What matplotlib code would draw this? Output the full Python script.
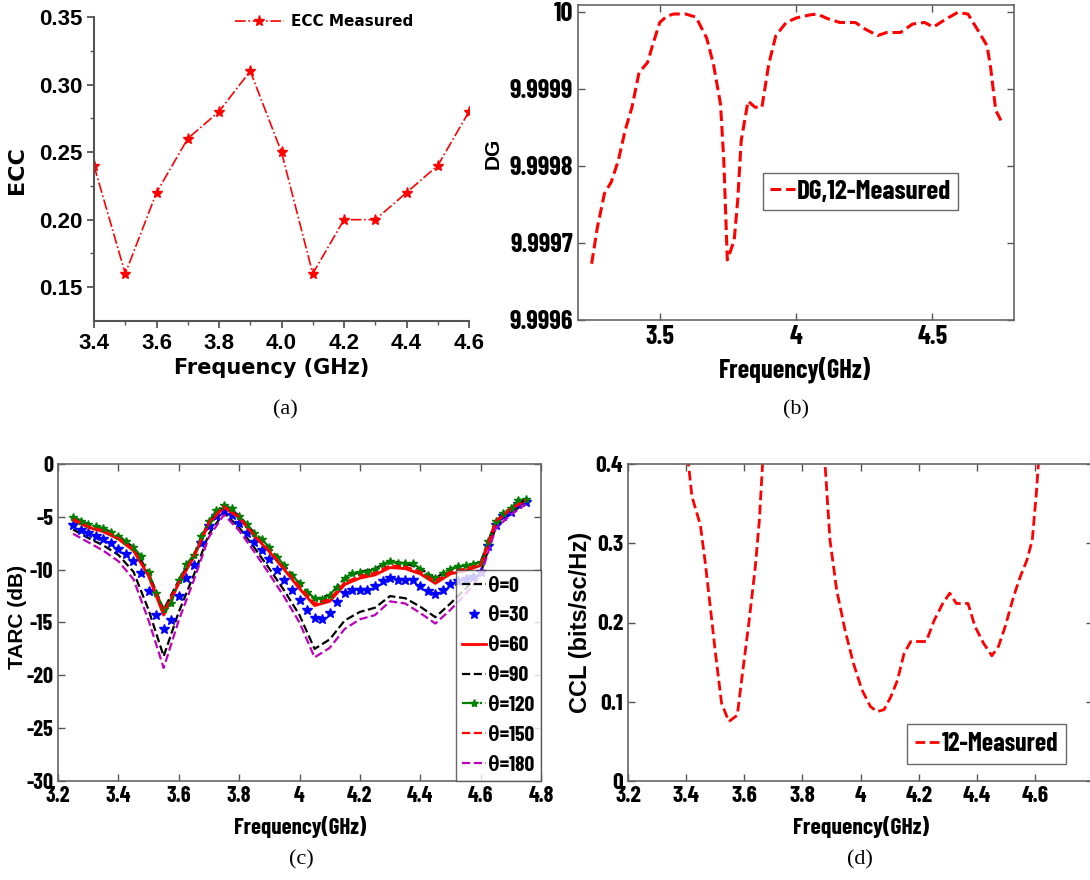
import numpy as np
import matplotlib
matplotlib.use("Agg")
import matplotlib.pyplot as plt

plt.rcParams['axes.unicode_minus'] = False
NARROW = ['Barlow Condensed', 'Liberation Sans Narrow', 'Liberation Sans', 'DejaVu Sans']
WIDE = ['Liberation Sans', 'DejaVu Sans']
HEAVY = ['DejaVu Sans']

# (a) ECC
ecc_freq = [3.4, 3.5, 3.6, 3.7, 3.8, 3.9, 4.0, 4.1, 4.2, 4.3, 4.4, 4.5, 4.6]
ecc_vals = [0.24, 0.16, 0.22, 0.26, 0.28, 0.31, 0.25, 0.16, 0.20, 0.20, 0.22, 0.24, 0.28]

# (b) DG
dg_freq = [3.25, 3.271, 3.297, 3.322, 3.348, 3.373, 3.398, 3.424, 3.455, 3.475,
           3.5, 3.525, 3.551, 3.595, 3.633, 3.672, 3.697, 3.723, 3.735, 3.748,
           3.773, 3.786, 3.799, 3.824, 3.85, 3.875, 3.9, 3.926, 3.964, 4.002,
           4.053, 4.078, 4.116, 4.161, 4.218, 4.256, 4.3, 4.332, 4.383, 4.428,
           4.472, 4.504, 4.548, 4.593, 4.631, 4.669, 4.701, 4.714, 4.733, 4.752]
dg_vals = [9.999673, 9.99972, 9.999764, 9.999779, 9.999807, 9.999846, 9.999876, 9.999921, 9.999934, 9.999958,
           9.999986, 9.999994, 9.999997, 9.999997, 9.999993, 9.999966, 9.999932, 9.99988, 9.999807, 9.999678,
           9.999703, 9.999755, 9.999833, 9.999884, 9.999876, 9.999876, 9.999932, 9.999969, 9.999986, 9.999992,
           9.999996, 9.999997, 9.999991, 9.999986, 9.999986, 9.999977, 9.999969, 9.999973, 9.999973, 9.999984,
           9.999986, 9.99998, 9.99999, 9.999999, 9.999997, 9.999975, 9.999956, 9.999928, 9.999872, 9.999859]

# (c) TARC, fine grid (marker series)
tarc_freq_fine = [3.25, 3.275, 3.3, 3.325, 3.35, 3.375, 3.4, 3.425, 3.45, 3.475,
                  3.5, 3.525, 3.55, 3.575, 3.6, 3.625, 3.65, 3.675, 3.7, 3.725,
                  3.75, 3.775, 3.8, 3.825, 3.85, 3.875, 3.9, 3.925, 3.95, 3.975,
                  4.0, 4.025, 4.05, 4.075, 4.1, 4.125, 4.15, 4.175, 4.2, 4.225,
                  4.25, 4.275, 4.3, 4.325, 4.35, 4.375, 4.4, 4.425, 4.45, 4.475,
                  4.5, 4.525, 4.55, 4.575, 4.6, 4.625, 4.65, 4.675, 4.7, 4.725, 4.75]
tarc_30 = [-5.8, -6.2, -6.5, -6.8, -7.1, -7.5, -8.0, -8.5, -9.2, -10.3,
           -12.0, -14.3, -15.6, -14.8, -12.5, -10.8, -9.6, -7.5, -5.9, -4.9,
           -4.4, -4.8, -5.6, -6.5, -7.4, -8.1, -9.0, -10.0, -11.0, -11.9,
           -12.9, -13.8, -14.6, -14.7, -14.1, -13.1, -12.2, -11.9, -11.9, -11.9,
           -11.5, -11.1, -10.8, -11.0, -11.0, -11.0, -11.5, -12.0, -12.3, -11.9,
           -11.4, -11.1, -10.9, -10.7, -10.2, -7.8, -5.8, -4.9, -4.5, -3.8, -3.6]
tarc_120 = [-5.0, -5.4, -5.7, -5.9, -6.1, -6.4, -6.8, -7.3, -7.9, -8.7,
            -10.2, -12.2, -13.7, -13.2, -11.0, -9.5, -8.6, -6.8, -5.4, -4.4,
            -3.9, -4.2, -4.9, -5.7, -6.5, -7.1, -7.9, -8.8, -9.6, -10.5,
            -11.3, -12.1, -12.7, -12.8, -12.4, -11.6, -10.8, -10.3, -10.2, -10.2,
            -9.9, -9.5, -9.2, -9.4, -9.4, -9.4, -9.9, -10.5, -10.8, -10.3,
            -9.9, -9.7, -9.6, -9.5, -9.3, -7.3, -5.4, -4.6, -4.2, -3.4, -3.3]

# (c) TARC, coarse grid (line series)
tarc_freq = [3.25, 3.3, 3.35, 3.4, 3.45, 3.5, 3.55, 3.6, 3.65, 3.7,
             3.75, 3.8, 3.85, 3.9, 3.95, 4.0, 4.05, 4.1, 4.15, 4.2,
             4.25, 4.3, 4.35, 4.4, 4.45, 4.5, 4.55, 4.6, 4.65, 4.7, 4.75]
tarc_0 = [-6.2, -7.0, -7.7, -8.6, -10.2, -13.8, -18.2, -14.0, -10.5, -6.6,
          -4.6, -6.0, -7.9, -9.9, -12.0, -14.3, -17.5, -16.6, -14.8, -14.0,
          -13.6, -12.5, -12.7, -13.5, -14.5, -13.2, -11.8, -10.3, -6.0, -4.6, -3.7]
tarc_60 = [-5.3, -6.0, -6.4, -7.1, -8.2, -10.6, -14.3, -11.3, -8.8, -5.6,
           -4.1, -5.1, -6.8, -8.3, -10.0, -11.8, -13.4, -13.0, -11.4, -10.8,
           -10.5, -9.8, -9.9, -10.4, -11.3, -10.4, -10.1, -9.6, -5.5, -4.3, -3.4]
tarc_90 = [-5.0, -5.7, -6.1, -6.8, -7.9, -10.3, -13.8, -11.0, -8.6, -5.4,
           -3.9, -4.9, -6.5, -7.9, -9.6, -11.3, -12.8, -12.4, -10.8, -10.2,
           -9.9, -9.2, -9.4, -9.9, -10.8, -9.9, -9.6, -9.3, -5.4, -4.2, -3.3]
tarc_150 = [-5.2, -5.9, -6.3, -7.0, -8.1, -10.5, -14.0, -11.2, -8.7, -5.5,
            -4.0, -5.0, -6.7, -8.2, -9.9, -11.6, -13.2, -12.8, -11.2, -10.6,
            -10.3, -9.6, -9.7, -10.2, -11.1, -10.2, -9.9, -9.5, -5.4, -4.2, -3.4]
tarc_180 = [-6.6, -7.4, -8.2, -9.2, -10.9, -14.8, -19.3, -14.8, -11.0, -6.9,
            -4.8, -6.3, -8.3, -10.4, -12.6, -15.0, -18.3, -17.4, -15.6, -14.7,
            -14.3, -13.0, -13.2, -14.1, -15.1, -13.8, -12.3, -10.6, -6.1, -4.8, -3.8]

# (d) CCL (values above 0.4 run off the top of the axes)
ccl_freq = [3.40, 3.408, 3.42, 3.449, 3.466, 3.483, 3.501, 3.522, 3.547, 3.576,
            3.594, 3.617, 3.638, 3.652, 3.663, 3.675, 3.87, 3.878, 3.895, 3.918,
            3.947, 3.976, 4.005, 4.034, 4.057, 4.081, 4.104, 4.127, 4.15, 4.173,
            4.197, 4.226, 4.254, 4.283, 4.307, 4.33, 4.37, 4.394, 4.423, 4.452,
            4.475, 4.498, 4.527, 4.55, 4.573, 4.591, 4.605, 4.612, 4.625]
ccl_vals = [0.427, 0.40, 0.359, 0.323, 0.275, 0.22, 0.161, 0.098, 0.075, 0.083,
            0.136, 0.203, 0.27, 0.329, 0.40, 0.477, 0.445, 0.40, 0.304, 0.241,
            0.19, 0.148, 0.115, 0.094, 0.0875, 0.09, 0.106, 0.127, 0.161, 0.176,
            0.176, 0.176, 0.203, 0.224, 0.237, 0.224, 0.224, 0.195, 0.174, 0.158,
            0.17, 0.195, 0.233, 0.258, 0.279, 0.304, 0.363, 0.40, 0.48]

W, H = 1090, 880
fig = plt.figure(figsize=(W / 100, H / 100), dpi=100)


def box(left, top, right, bottom):
    return fig.add_axes([left / W, 1 - bottom / H, (right - left) / W, (bottom - top) / H])


def matlab_style(ax, size):
    ax.tick_params(direction='in', top=True, right=True, length=5, width=1, colors='#555555',
                   labelcolor='black', labelsize=size)
    for s in ax.spines.values():
        s.set_color('#666666')
        s.set_linewidth(1.2)
    for lab in ax.get_xticklabels() + ax.get_yticklabels():
        lab.set_family(NARROW)
        lab.set_fontweight('bold')


def boxed_legend(leg):
    leg.get_frame().set_edgecolor('#444444')
    leg.get_frame().set_linewidth(1.0)


# ---------- (a)
ax = box(94, 17, 469, 321)
ax.plot(ecc_freq, ecc_vals, color='red', ls='-.', lw=1.2, marker='*', ms=8, label='ECC Measured')
ax.set_xlim(3.4, 4.6)
ax.set_ylim(0.125, 0.35)
ax.set_xticks([3.4, 3.6, 3.8, 4.0, 4.2, 4.4, 4.6])
ax.set_xticks([3.5, 3.7, 3.9, 4.1, 4.3, 4.5], minor=True)
ax.set_xticklabels(['3.4', '3.6', '3.8', '4.0', '4.2', '4.4', '4.6'])
ax.set_yticks([0.15, 0.20, 0.25, 0.30, 0.35])
ax.set_yticks([0.175, 0.225, 0.275, 0.325], minor=True)
ax.set_yticklabels(['0.15', '0.20', '0.25', '0.30', '0.35'])
ax.spines['top'].set_visible(False)
ax.spines['right'].set_visible(False)
for s in ['left', 'bottom']:
    ax.spines[s].set_color('#555555')
    ax.spines[s].set_linewidth(1.5)
ax.tick_params(which='major', direction='out', length=5, width=1.3, colors='#555555', labelcolor='black')
ax.tick_params(which='minor', direction='out', length=3, width=1, colors='#555555')
for lab in ax.get_xticklabels() + ax.get_yticklabels():
    lab.set_family(WIDE)
    lab.set_fontweight('bold')
    lab.set_fontsize(16)
ax.set_xlabel('Frequency (GHz)', family=HEAVY, fontweight='bold', fontsize=15)
ax.set_ylabel('ECC', family=HEAVY, fontweight='bold', fontsize=16)
ax.xaxis.set_label_coords(0.475, -0.122)
ax.yaxis.set_label_coords(-0.179, 0.497)
ax.legend(loc='upper left', bbox_to_anchor=(0.376, 1.01), frameon=False, handlelength=3.2,
          handletextpad=0.45, borderpad=0, borderaxespad=0,
          prop={'family': HEAVY, 'weight': 'bold', 'size': 11})

# ---------- (b)
ax = box(578, 5, 1014, 320)
ax.plot(dg_freq, dg_vals, color='red', ls=(0, (3.5, 1.6)), lw=2.2, label='DG,12-Measured')
ax.set_xlim(3.2, 4.8)
ax.set_ylim(9.9996, 10.0000087)
ax.set_xticks([3.5, 4.0, 4.5])
ax.set_xticklabels(['3.5', '4', '4.5'])
ax.set_yticks([9.9996, 9.9997, 9.9998, 9.9999, 10.0])
ax.set_yticklabels(['9.9996', '9.9997', '9.9998', '9.9999', '10'])
matlab_style(ax, 19)
ax.set_xlabel('Frequency(GHz)', family=NARROW, fontweight='bold', fontsize=19)
ax.set_ylabel('DG', family=WIDE, fontweight='bold', fontsize=15)
ax.xaxis.set_label_coords(0.498, -0.117)
ax.yaxis.set_label_coords(-0.173, 0.53)
leg = ax.legend(loc='upper left', bbox_to_anchor=(0.424, 0.467), handlelength=0.95, handletextpad=0.05,
                borderaxespad=0, fancybox=False, borderpad=0.25,
                prop={'family': NARROW, 'weight': 'bold', 'size': 19.5})
boxed_legend(leg)

# ---------- (c)
ax = box(58, 464, 541, 781)
ax.plot(tarc_freq, tarc_0, color='black', ls='--', lw=1.6, label='θ=0')
ax.plot(tarc_freq_fine, tarc_30, color='blue', ls='none', marker='*', ms=7, label='θ=30')
ax.plot(tarc_freq, tarc_60, color='red', ls='-', lw=2.0, label='θ=60')
ax.plot(tarc_freq, tarc_90, color='black', ls='--', lw=1.6, label='θ=90')
ax.plot(tarc_freq_fine, tarc_120, color='green', ls='-.', lw=1.6, marker='*', ms=6, label='θ=120')
ax.plot(tarc_freq, tarc_150, color='red', ls='--', lw=1.6, label='θ=150')
ax.plot(tarc_freq, tarc_180, color='m', ls='--', lw=1.6, label='θ=180')
ax.set_xlim(3.2, 4.8)
ax.set_ylim(-30, 0)
ax.set_xticks([3.2, 3.4, 3.6, 3.8, 4.0, 4.2, 4.4, 4.6, 4.8])
ax.set_xticklabels(['3.2', '3.4', '3.6', '3.8', '4', '4.2', '4.4', '4.6', '4.8'])
ax.set_yticks([-30, -25, -20, -15, -10, -5, 0])
ax.set_yticklabels(['-30', '-25', '-20', '-15', '-10', '-5', '0'])
matlab_style(ax, 16)
ax.set_xlabel('Frequency(GHz)', family=NARROW, fontweight='bold', fontsize=16.5)
ax.set_ylabel('TARC (dB)', family=WIDE, fontweight='bold', fontsize=15)
ax.xaxis.set_label_coords(0.501, -0.109)
ax.yaxis.set_label_coords(-0.064, 0.517)
leg = ax.legend(loc='lower right', borderaxespad=0, handlelength=1.1, handletextpad=0.1,
                fancybox=False, borderpad=0.3, labelspacing=0.5,
                prop={'family': NARROW, 'weight': 'bold', 'size': 15.5})
boxed_legend(leg)

# ---------- (d)  right edge of the axes falls just outside the picture
ax = box(628, 464, 1093, 781)
ax.plot(ccl_freq, ccl_vals, color='red', ls=(0, (3.5, 1.6)), lw=2.0, label='12-Measured')
ax.set_xlim(3.2, 4.8)
ax.set_ylim(0, 0.4)
ax.set_xticks([3.2, 3.4, 3.6, 3.8, 4.0, 4.2, 4.4, 4.6, 4.8])
ax.set_xticklabels(['3.2', '3.4', '3.6', '3.8', '4', '4.2', '4.4', '4.6', ''])
ax.set_yticks([0, 0.1, 0.2, 0.3, 0.4])
ax.set_yticklabels(['0', '0.1', '0.2', '0.3', '0.4'])
matlab_style(ax, 17)
ax.set_xlabel('Frequency(GHz)', family=NARROW, fontweight='bold', fontsize=17)
ax.set_ylabel('CCL (bits/sc/Hz)', family=WIDE, fontweight='bold', fontsize=17)
ax.xaxis.set_label_coords(0.501, -0.109)
ax.yaxis.set_label_coords(-0.077, 0.5)
leg = ax.legend(loc='lower right', bbox_to_anchor=(0.943, 0.054), borderaxespad=0, handlelength=1.0,
                handletextpad=0.05, fancybox=False, borderpad=0.3,
                prop={'family': NARROW, 'weight': 'bold', 'size': 18.5})
boxed_legend(leg)

# captions
for cx, cy, t in [(285, 410, '(a)'), (796, 410, '(b)'), (301, 860, '(c)'), (860, 860, '(d)')]:
    fig.text(cx / W, 1 - cy / H, t, ha='center', va='center', family=['Liberation Serif', 'DejaVu Serif'],
             fontsize=16)

fig.savefig('out.png', dpi=100)
